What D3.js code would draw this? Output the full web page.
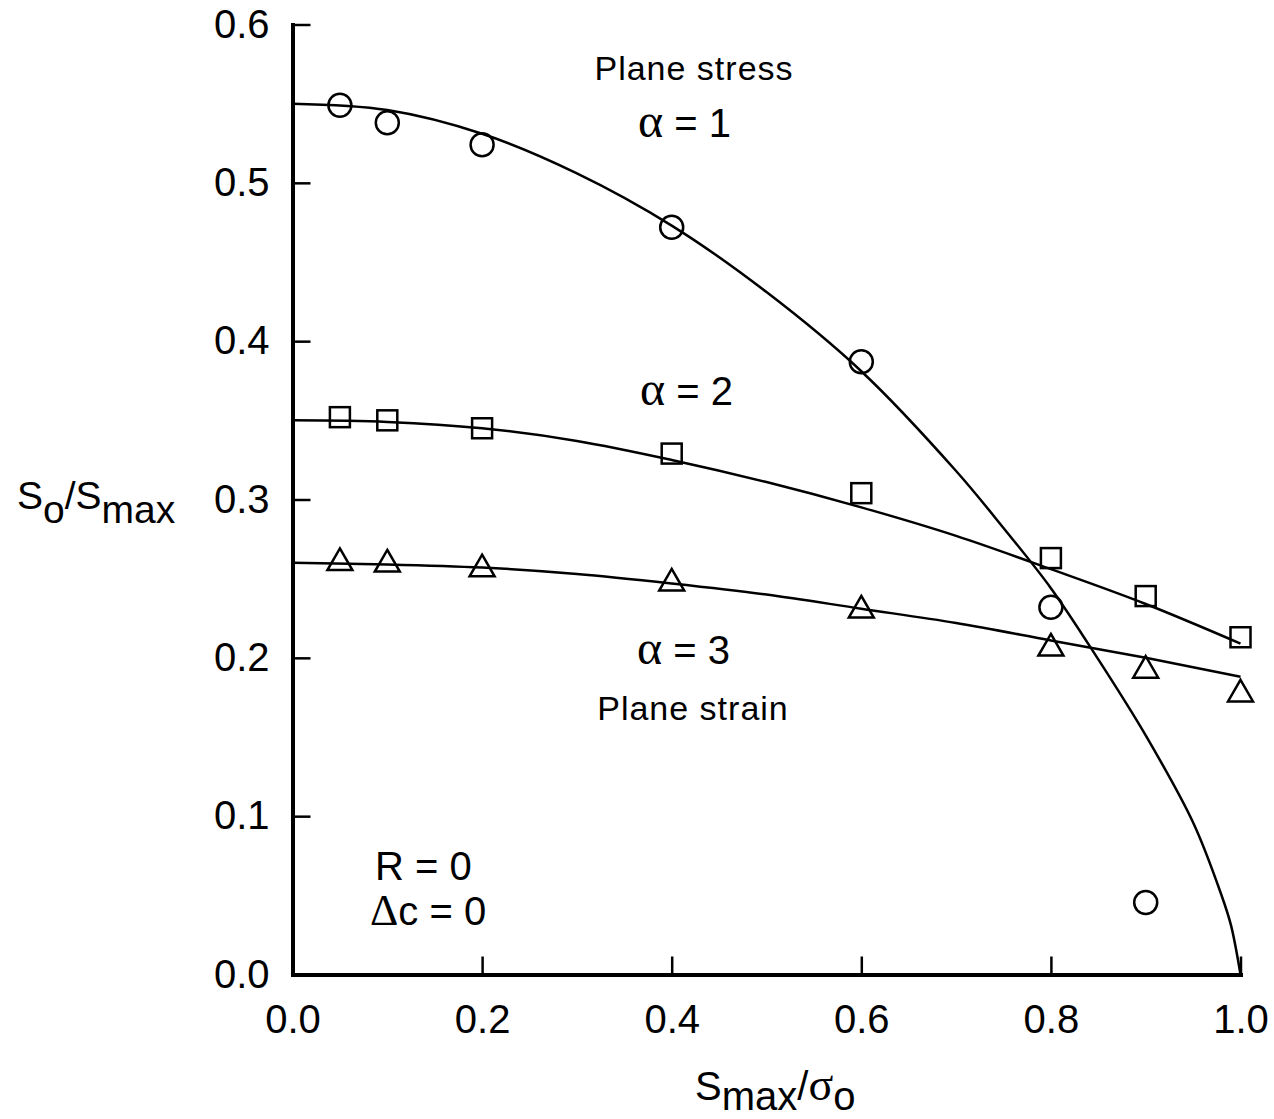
<!DOCTYPE html>
<html>
<head>
<meta charset="utf-8">
<script src="https://d3js.org/d3.v7.min.js"></script>
<style>
  body { margin: 0; background: #fff; }
</style>
</head>
<body>
<div id="chart"></div>
<script>
// fitted curves
var curve1_x = [0, 0.1, 0.2, 0.3, 0.4, 0.5, 0.6, 0.7, 0.75, 0.8, 0.85, 0.9, 0.95, 0.98, 0.99, 1.0];
var curve1_y = [0.550, 0.546, 0.531, 0.506, 0.473, 0.431, 0.381, 0.318, 0.282, 0.244, 0.199, 0.151, 0.096, 0.050, 0.031, 0];
var curve2_x = [0, 0.1, 0.2, 0.3, 0.4, 0.5, 0.6, 0.7, 0.8, 0.9, 1.0];
var curve2_y = [0.350, 0.349, 0.345, 0.337, 0.325, 0.311, 0.295, 0.277, 0.256, 0.234, 0.209];
var curve3_x = [0, 0.1, 0.2, 0.3, 0.4, 0.5, 0.6, 0.7, 0.8, 0.9, 1.0];
var curve3_y = [0.260, 0.259, 0.257, 0.253, 0.247, 0.240, 0.231, 0.222, 0.211, 0.200, 0.188];

// data points
var circle_x = [0.05, 0.1, 0.2, 0.4, 0.6, 0.8, 0.9];
var circle_y = [0.549, 0.538, 0.524, 0.472, 0.387, 0.232, 0.0455];
var square_x = [0.05, 0.1, 0.2, 0.4, 0.6, 0.8, 0.9, 1.0];
var square_y = [0.352, 0.350, 0.345, 0.329, 0.304, 0.263, 0.239, 0.213];
var triangle_x = [0.05, 0.1, 0.2, 0.4, 0.6, 0.8, 0.9, 1.0];
var triangle_y = [0.260, 0.259, 0.256, 0.247, 0.230, 0.206, 0.192, 0.177];

var x_ticks = [0, 0.2, 0.4, 0.6, 0.8, 1.0];
var y_ticks = [0, 0.1, 0.2, 0.3, 0.4, 0.5, 0.6];

function zip(xs, ys) {
  return xs.map(function (v, i) { return {x: v, y: ys[i]}; });
}

var font = "'Liberation Sans', Arial, Helvetica, sans-serif";
var serif = "'Liberation Serif', 'Times New Roman', serif";

var W = 1274, H = 1119;
var svg = d3.select("#chart")
  .append("svg")
    .attr("width", W)
    .attr("height", H)
    .style("font-family", font);

var x = d3.scaleLinear().domain([0, 1]).range([292.5, 1240.5]);
var y = d3.scaleLinear().domain([0, 0.6]).range([974.5, 24.5]);

// X axis
var gx = svg.append("g")
    .attr("transform", "translate(0," + y(0) + ")")
    .call(d3.axisBottom(x).tickValues(x_ticks).tickFormat(d3.format(".1f"))
      .tickSizeInner(-18).tickSizeOuter(0).tickPadding(30));

// Y axis
var gy = svg.append("g")
    .attr("transform", "translate(" + x(0) + ",0)")
    .call(d3.axisLeft(y).tickValues(y_ticks).tickFormat(d3.format(".1f"))
      .tickSizeInner(-18).tickSizeOuter(0).tickPadding(23));

[gx, gy].forEach(function (g) {
  g.attr("font-size", 40).attr("font-family", font);
  g.select(".domain").attr("stroke", "#000").attr("stroke-width", 4).attr("stroke-linecap", "square");
  g.selectAll(".tick line").attr("stroke", "#000").attr("stroke-width", 2.5);
  g.selectAll(".tick text").attr("fill", "#000");
});

// curves
var line = d3.line()
  .x(function (d) { return x(d.x); })
  .y(function (d) { return y(d.y); })
  .curve(d3.curveCatmullRom.alpha(0.5));

[zip(curve1_x, curve1_y), zip(curve2_x, curve2_y), zip(curve3_x, curve3_y)].forEach(function (c) {
  svg.append("path")
    .datum(c)
    .attr("d", line)
    .attr("fill", "none")
    .attr("stroke", "#000")
    .attr("stroke-width", 2.5);
});

// markers
svg.append("g")
  .selectAll("circle")
  .data(zip(circle_x, circle_y))
  .enter()
  .append("circle")
    .attr("cx", function (d) { return x(d.x); })
    .attr("cy", function (d) { return y(d.y); })
    .attr("r", 11.5)
    .attr("fill", "none")
    .attr("stroke", "#000")
    .attr("stroke-width", 2.5);

svg.append("g")
  .selectAll("rect")
  .data(zip(square_x, square_y))
  .enter()
  .append("rect")
    .attr("x", function (d) { return x(d.x) - 10; })
    .attr("y", function (d) { return y(d.y) - 10; })
    .attr("width", 20)
    .attr("height", 20)
    .attr("fill", "none")
    .attr("stroke", "#000")
    .attr("stroke-width", 2.5);

svg.append("g")
  .selectAll("path")
  .data(zip(triangle_x, triangle_y))
  .enter()
  .append("path")
    .attr("d", d3.symbol(d3.symbolTriangle, 270))
    .attr("transform", function (d) { return "translate(" + x(d.x) + "," + y(d.y) + ")"; })
    .attr("fill", "none")
    .attr("stroke", "#000")
    .attr("stroke-width", 2.5);

// annotations
function alphaLabel(px, py, rest) {
  var t = svg.append("text").attr("x", px).attr("y", py).attr("font-size", 40);
  t.append("tspan").attr("font-family", serif).attr("font-size", 48).text("α");
  t.append("tspan").text(" = " + rest);
}

svg.append("text").attr("x", 694).attr("y", 80).attr("text-anchor", "middle")
  .attr("font-size", 34).attr("letter-spacing", 1).text("Plane stress");
alphaLabel(638, 137, "1");
alphaLabel(640, 405, "2");
alphaLabel(637, 664, "3");
svg.append("text").attr("x", 693).attr("y", 720).attr("text-anchor", "middle")
  .attr("font-size", 34).attr("letter-spacing", 1).text("Plane strain");

svg.append("text").attr("x", 375).attr("y", 880).attr("font-size", 40).text("R = 0");
var dc = svg.append("text").attr("x", 370).attr("y", 925).attr("font-size", 40);
dc.append("tspan").attr("font-family", serif).attr("font-size", 44).text("Δ");
dc.append("tspan").text("c = 0");

// axis labels
var yl = svg.append("text").attr("x", 17).attr("y", 509).attr("font-size", 39);
yl.append("tspan").text("S");
yl.append("tspan").attr("dy", 13.5).text("o");
yl.append("tspan").attr("dy", -13.5).text("/S");
yl.append("tspan").attr("dy", 13.5).text("max");

var xl = svg.append("text").attr("x", 695).attr("y", 1100).attr("font-size", 40);
xl.append("tspan").text("S");
xl.append("tspan").attr("dy", 10).text("max");
xl.append("tspan").attr("dy", -10).text("/");
xl.append("tspan").attr("font-family", serif).attr("font-size", 46).text("σ");
xl.append("tspan").attr("dy", 10).text("o");
</script>
</body>
</html>
